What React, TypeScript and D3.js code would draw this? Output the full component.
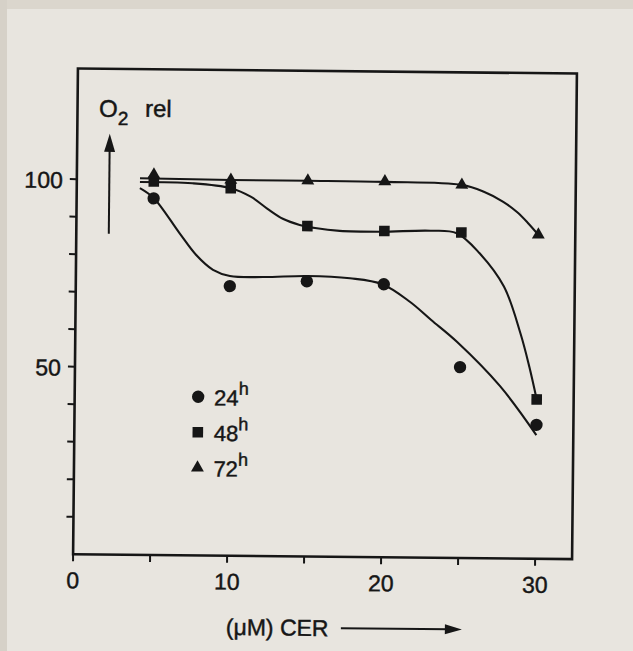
import React from "react";
import * as d3 from "d3";

const W = 633;
const H = 651;

// Measured O2 consumption relative to control, by CER concentration (µM)
const concentrations = [5, 10, 15, 20, 25, 30];
const o2At24h = [95.1, 71.9, 73.4, 72.8, 50.9, 35.7];
const o2At48h = [99.6, 98.0, 88.1, 87.0, 86.8, 42.5];
const o2At72h = [101.4, 100.2, 100.2, 100.2, 99.5, 86.4];

// Hand-fitted trend curves: [concentration, O2 rel]
const trend24h: [number, number][] = [
  [4.1, 97.8], [5.0, 95.2], [6.7, 85.9], [7.8, 80.1], [8.9, 76.2], [10.0, 74.6],
  [12.2, 74.4], [15.0, 74.8], [17.8, 74.3], [19.9, 72.8], [21.7, 68.2],
  [23.1, 63.4], [24.8, 57.6], [27.6, 46.0], [30.0, 33.0],
];
const trend48h: [number, number][] = [
  [4.1, 99.4], [7.5, 99.2], [10.0, 98.0], [11.3, 95.8], [12.4, 92.6], [13.4, 90.0],
  [14.5, 88.4], [15.5, 87.6], [17.1, 86.9], [19.8, 86.8], [23.0, 87.2],
  [24.7, 86.6], [26.2, 81.3], [27.8, 72.5], [28.9, 60.1], [29.5, 51.2], [30.0, 42.5],
];
const trend72h: [number, number][] = [
  [4.1, 100.4], [10.0, 100.2], [15.0, 100.2], [20.0, 100.1], [25.0, 99.5],
  [26.4, 97.8], [27.7, 95.1], [28.6, 92.4], [29.3, 89.6], [30.0, 86.4],
];

const seriesNames = ["24", "48", "72"];
const xTicks = [0, 5, 10, 15, 20, 25, 30];
const xTickLabels = [0, 10, 20, 30];
const yTicks = [10, 20, 30, 40, 50, 60, 70, 80, 90, 100];
const yTickLabels = [50, 100];

const INK = "#161616";
const FONT = "'Liberation Sans', Arial, sans-serif";

const frame = { left: 75.5, right: 574.5, top: 71, bottom: 556.7 };

// slightly heavier lettering
const textInk = { fill: INK, stroke: INK, strokeWidth: 0.45 };

export default function App() {
  const x = d3.scaleLinear().domain([0, 32.4]).range([frame.left, frame.right]);
  const y = d3.scaleLinear().domain([0, 129.5]).range([frame.bottom, frame.top]);

  const line = d3
    .line<[number, number]>()
    .x((d) => x(d[0]))
    .y((d) => y(d[1]))
    .curve(d3.curveCatmullRom.alpha(0.5));

  const circle = d3.symbol(d3.symbolCircle, 120)()!;
  const square = d3.symbol(d3.symbolSquare, 112)()!;
  const triangle = d3.symbol(d3.symbolTriangle, 72)()!;
  const shapes = [circle, square, triangle];
  const values = [o2At24h, o2At48h, o2At72h];
  const trends = [trend24h, trend48h, trend72h];

  return (
    <svg
      width={W}
      height={H}
      viewBox={`0 0 ${W} ${H}`}
      style={{ position: "absolute", left: 0, top: 0, display: "block" }}
      fontFamily={FONT}
    >
      <rect x={0} y={0} width={W} height={H} fill="#e8e5df" />
      <rect x={0} y={0} width={W} height={9} fill="#dbd6cd" />
      <rect x={0} y={0} width={7} height={H} fill="#d6d1c8" />

      <g transform="rotate(0.57 325 314)">
        {/* plot frame */}
        <rect
          x={frame.left}
          y={frame.top}
          width={frame.right - frame.left}
          height={frame.bottom - frame.top}
          fill="none"
          stroke={INK}
          strokeWidth={2.6}
        />

        {/* y ticks */}
        {yTicks.map((t) => (
          <line key={`yt${t}`} x1={frame.left - 7} x2={frame.left} y1={y(t)} y2={y(t)} stroke={INK} strokeWidth={2} />
        ))}
        {yTickLabels.map((t) => (
          <text key={`yl${t}`} x={frame.left - 14} y={y(t) + 9} textAnchor="end" fontSize={23} {...textInk}>
            {t}
          </text>
        ))}

        {/* x ticks */}
        {xTicks.map((t) => (
          <line key={`xt${t}`} x1={x(t)} x2={x(t)} y1={frame.bottom} y2={frame.bottom + 7} stroke={INK} strokeWidth={2} />
        ))}
        {xTickLabels.map((t) => (
          <text key={`xl${t}`} x={x(t)} y={frame.bottom + 34} textAnchor="middle" fontSize={23} {...textInk}>
            {t}
          </text>
        ))}

        {/* x axis title with arrow */}
        <text x={229} y={636} fontSize={23} {...textInk}>
          (μM) CER
        </text>
        <line x1={344} x2={452} y1={628} y2={628} stroke={INK} strokeWidth={2} />
        <path d="M465,628 L448,623 L448,633 Z" fill={INK} />

        {/* y axis title with arrow */}
        <text x={97} y={119} fontSize={24} {...textInk}>O</text>
        <text x={116} y={127} fontSize={19} {...textInk}>2</text>
        <text x={143} y={118.5} fontSize={24} {...textInk}>rel</text>
        <line x1={108} x2={108} y1={236} y2={150} stroke={INK} strokeWidth={2} />
        <path d="M108,136 L102.5,154 L113.5,154 Z" fill={INK} />

        {/* trend curves */}
        {trends.map((tr, i) => (
          <path key={`tr${i}`} d={line(tr)!} fill="none" stroke={INK} strokeWidth={2.1} />
        ))}

        {/* measured points */}
        {values.map((vals, i) =>
          vals.map((v, j) => (
            <path
              key={`p${i}-${j}`}
              d={shapes[i]}
              transform={`translate(${x(concentrations[j])},${y(v)})`}
              fill={INK}
            />
          ))
        )}

        {/* legend */}
        {seriesNames.map((name, i) => (
          <g key={`lg${name}`} transform={`translate(199,${398 + i * 35.5})`}>
            <path d={shapes[i]} fill={INK} />
            <text x={16} y={8.5} fontSize={22} {...textInk}>
              {name}
              <tspan dy={-11} fontSize={18}>h</tspan>
            </text>
          </g>
        ))}
      </g>
    </svg>
  );
}
